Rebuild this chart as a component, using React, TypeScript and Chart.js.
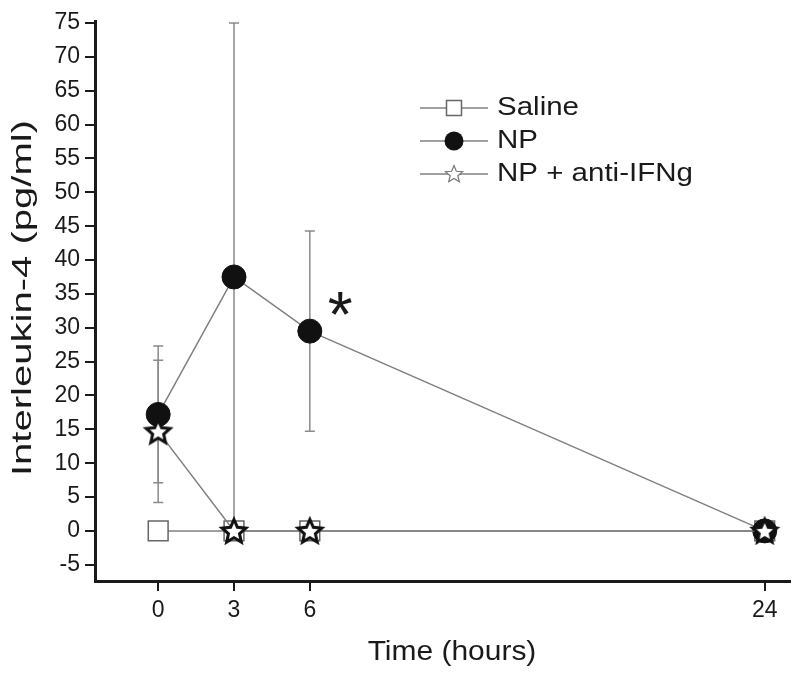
import React, { useEffect, useRef } from "react";
import { Chart, registerables } from "chart.js";

Chart.register(...registerables);

const times = [0, 3, 6, 24];
const salineValues = [0, 0, 0, 0];
const salineErrors = [0, 0, 0, 0];
const npValues = [17.2, 37.5, 29.5, 0];
const npErrors = [10.1, 37.5, 14.8, 0];
const antiValues = [14.7, 0, 0, 0];
const antiErrors = [10.5, 0, 0, 0];
const xTicks = [0, 3, 6, 24];
const yTicks = [-5, 0, 5, 10, 15, 20, 25, 30, 35, 40, 45, 50, 55, 60, 65, 70, 75];
const seriesNames = ["Saline", "NP", "NP + anti-IFNg"];
const xTitle = "Time (hours)";
const yTitle = "Interleukin-4 (pg/ml)";
const asterisk = { x: 7.2, y: 33.6, text: "*" };

const FONT = "'Liberation Sans', Arial, sans-serif";
const LINE = "#808080";
const INK = "#1a1a1a";

function drawStarPath(ctx: CanvasRenderingContext2D, cx: number, cy: number, R: number, r: number) {
  ctx.beginPath();
  for (let i = 0; i < 10; i++) {
    const a = -Math.PI / 2 + (i * Math.PI) / 5;
    const rad = i % 2 === 0 ? R : r;
    const x = cx + Math.cos(a) * rad;
    const y = cy + Math.sin(a) * rad;
    if (i === 0) ctx.moveTo(x, y);
    else ctx.lineTo(x, y);
  }
  ctx.closePath();
}

function makeStar(): HTMLCanvasElement {
  const c = document.createElement("canvas");
  c.width = 32;
  c.height = 32;
  const ctx = c.getContext("2d")!;
  drawStarPath(ctx, 16, 17, 12.5, 5.8);
  ctx.fillStyle = "#ffffff";
  ctx.fill();
  ctx.lineWidth = 3;
  ctx.lineJoin = "miter";
  ctx.strokeStyle = "#111";
  ctx.stroke();
  return c;
}

const pts = (vals: number[]) => times.map((t, i) => ({ x: t, y: vals[i] }));

export default function App() {
  const ref = useRef<HTMLCanvasElement | null>(null);
  useEffect(() => {
    document.body.style.margin = "0";
    const canvas = ref.current!;
    const star = makeStar();

    const errorBars = {
      id: "errorBars",
      beforeDatasetsDraw(chart: any) {
        const { ctx, scales } = chart;
        const xs = scales.x, ys = scales.y;
        const sets = [
          [salineValues, salineErrors],
          [npValues, npErrors],
          [antiValues, antiErrors],
        ];
        ctx.save();
        ctx.strokeStyle = "#8a8a8a";
        ctx.lineWidth = 1.5;
        sets.forEach(([vals, errs]) => {
          times.forEach((t, i) => {
            const e = errs[i];
            if (!e) return;
            const px = xs.getPixelForValue(t);
            const top = ys.getPixelForValue(vals[i] + e);
            const bot = ys.getPixelForValue(vals[i] - e);
            ctx.beginPath();
            ctx.moveTo(px, top);
            ctx.lineTo(px, bot);
            ctx.moveTo(px - 5, top);
            ctx.lineTo(px + 5, top);
            ctx.moveTo(px - 5, bot);
            ctx.lineTo(px + 5, bot);
            ctx.stroke();
          });
        });
        ctx.restore();
      },
    };

    const extras = {
      id: "extras",
      afterDraw(chart: any) {
        const { ctx, scales } = chart;
        ctx.save();
        // asterisk
        ctx.font = `100px ${FONT}`;
        const m100 = ctx.measureText(asterisk.text);
        const h100 = m100.actualBoundingBoxAscent + m100.actualBoundingBoxDescent;
        const size = (100 * 23) / h100;
        ctx.font = `${size}px ${FONT}`;
        const m = ctx.measureText(asterisk.text);
        const cx = scales.x.getPixelForValue(asterisk.x);
        const cy = scales.y.getPixelForValue(asterisk.y);
        ctx.fillStyle = INK;
        ctx.textAlign = "center";
        ctx.textBaseline = "alphabetic";
        ctx.fillText(asterisk.text, cx, cy + (m.actualBoundingBoxAscent - m.actualBoundingBoxDescent) / 2);

        // axis titles
        ctx.font = `28px ${FONT}`;
        ctx.textAlign = "center";
        ctx.textBaseline = "alphabetic";
        ctx.save();
        ctx.translate(452, 660);
        ctx.scale(1.07, 1);
        ctx.fillText(xTitle, 0, 0);
        ctx.restore();
        ctx.save();
        ctx.translate(31, 298);
        ctx.rotate(-Math.PI / 2);
        ctx.scale(1.43, 1);
        ctx.fillText(yTitle, 0, 0);
        ctx.restore();

        // legend
        const rows = [108, 141, 174];
        rows.forEach((y, i) => {
          ctx.strokeStyle = LINE;
          ctx.lineWidth = 1.5;
          ctx.beginPath();
          ctx.moveTo(420, y);
          ctx.lineTo(488, y);
          ctx.stroke();
          const mx = 454;
          if (i === 0) {
            ctx.fillStyle = "#fff";
            ctx.fillRect(mx - 7.5, y - 7.5, 15, 15);
            ctx.strokeStyle = "#666";
            ctx.lineWidth = 1.5;
            ctx.strokeRect(mx - 7.5, y - 7.5, 15, 15);
          } else if (i === 1) {
            ctx.fillStyle = "#111";
            ctx.beginPath();
            ctx.arc(mx, y, 9.5, 0, Math.PI * 2);
            ctx.fill();
          } else {
            drawStarPath(ctx, mx, y + 0.5, 9, 4);
            ctx.fillStyle = "#fff";
            ctx.fill();
            ctx.strokeStyle = "#777";
            ctx.lineWidth = 1.2;
            ctx.stroke();
          }
          ctx.fillStyle = INK;
          ctx.font = `25px ${FONT}`;
          ctx.textAlign = "left";
          ctx.textBaseline = "middle";
          ctx.save();
          ctx.translate(497, y);
          ctx.scale(1.18, 1);
          ctx.fillText(seriesNames[i], 0, 0);
          ctx.restore();
        });
        ctx.restore();
      },
    };

    const tickScale = {
      grid: { display: true, drawOnChartArea: false, drawTicks: true, tickLength: 10, color: INK, lineWidth: 2 },
      border: { display: true, color: INK, width: 3 },
    };

    const chart = new Chart(canvas, {
      type: "line",
      data: {
        datasets: [
          {
            label: seriesNames[2],
            data: pts(antiValues),
            order: 0,
            borderColor: LINE,
            borderWidth: 1.5,
            pointStyle: star as any,
            pointRadius: 13,
            pointHoverRadius: 13,
          },
          {
            label: seriesNames[1],
            data: pts(npValues),
            order: 1,
            borderColor: LINE,
            borderWidth: 1.5,
            pointStyle: "circle",
            pointRadius: 12,
            pointBackgroundColor: "#111",
            pointBorderColor: "#111",
            pointBorderWidth: 1,
          },
          {
            label: seriesNames[0],
            data: pts(salineValues),
            order: 2,
            borderColor: LINE,
            borderWidth: 1.5,
            pointStyle: "rect",
            pointRadius: 14,
            pointBackgroundColor: "#fff",
            pointBorderColor: "#666",
            pointBorderWidth: 1.5,
          },
        ],
      },
      options: {
        animation: false,
        responsive: false,
        maintainAspectRatio: false,
        events: [],
        layout: { autoPadding: false, padding: { top: 21, right: 10, left: 0, bottom: 0 } },
        plugins: { legend: { display: false }, tooltip: { enabled: false } },
        scales: {
          x: {
            type: "linear",
            min: -2.5,
            max: 25.0,
            ...tickScale,
            afterBuildTicks: (s: any) => {
              s.ticks = xTicks.map((v) => ({ value: v }));
            },
            afterFit: (s: any) => {
              s.height = 97;
              s.paddingLeft = 0;
              s.paddingRight = 0;
            },
            ticks: {
              color: INK,
              font: { family: FONT, size: 23 },
              padding: 6,
              maxRotation: 0,
              autoSkip: false,
              callback: (v: any) => String(v),
            },
          },
          y: {
            type: "linear",
            min: -7.4,
            max: 75.3,
            ...tickScale,
            afterBuildTicks: (s: any) => {
              s.ticks = yTicks.map((v) => ({ value: v }));
            },
            afterFit: (s: any) => {
              s.width = 95;
              s.paddingTop = 0;
              s.paddingBottom = 0;
            },
            ticks: {
              color: INK,
              font: { family: FONT, size: 23 },
              padding: 5,
              autoSkip: false,
              callback: (v: any) => String(v),
            },
          },
        },
      },
      plugins: [errorBars, extras],
    });
    return () => chart.destroy();
  }, []);
  return (
    <div style={{ width: 800, height: 678 }}>
      <canvas ref={ref} width={800} height={678} style={{ display: "block", width: 800, height: 678 }} />
    </div>
  );
}
